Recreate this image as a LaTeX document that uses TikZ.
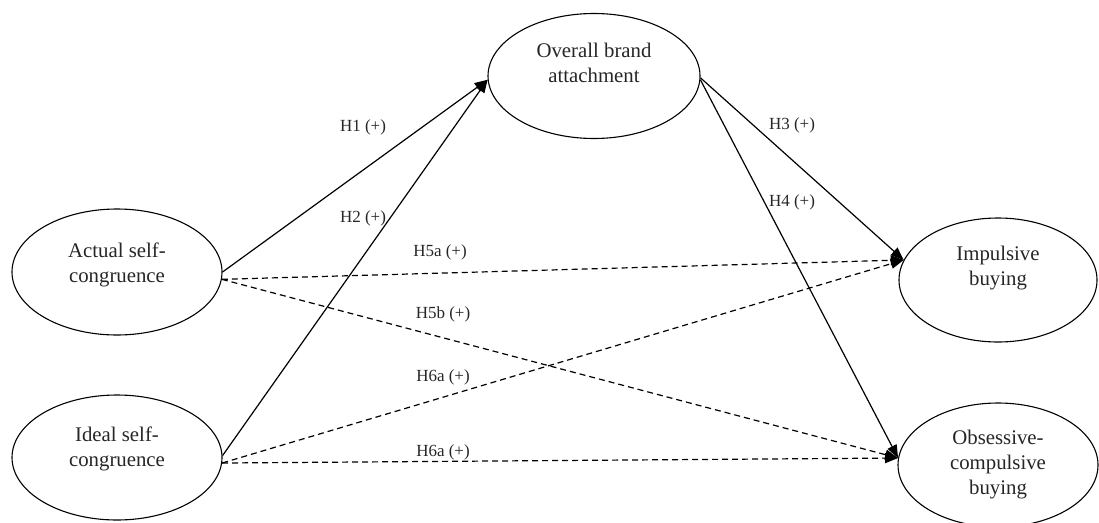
\documentclass[tikz,border=0pt]{standalone}
\usepackage{fontspec}
\setmainfont{Liberation Serif}
\usetikzlibrary{shapes.geometric,arrows.meta}
\begin{document}
\begin{tikzpicture}[x=1pt,y=1pt,
  ell/.style={draw, line width=1.1pt, ellipse, inner sep=0pt},
  ntext/.style={align=center, inner sep=0pt, font=\fontsize{20.8}{25}\selectfont, text=black!85},
  hlbl/.style={inner sep=0pt, font=\fontsize{17}{20}\selectfont, text=black!85},
  conn/.style={line width=1.2pt, -{Triangle[length=13pt,width=10pt]}},
  dconn/.style={conn, dash pattern=on 6pt off 4pt}]
\useasboundingbox (0,0) rectangle (1099,-522);
% ellipses
\node[ell, minimum width=212, minimum height=125] (ovr) at (594,-76) {};
\node[ell, minimum width=210, minimum height=126] (act) at (117,-272) {};
\node[ell, minimum width=210, minimum height=125] (ide) at (117,-457.5) {};
\node[ell, minimum width=198, minimum height=124] (imp) at (998,-280) {};
\node[ell, minimum width=200, minimum height=124] (obs) at (998,-465) {};
% texts
\node[ntext] (ovrt) at (594,-63) {Overall brand\\attachment};
\node[ntext] (actt) at (117,-265) {Actual self-\\congruence};
\node[ntext] (idet) at (117,-449) {Ideal self-\\congruence};
\node[ntext] (impt) at (998,-268) {Impulsive\\buying};
\node[ntext] (obst) at (998,-465) {Obsessive-\\compulsive\\buying};
% connectors
\draw[conn] (act.east) -- (ovr.182);
\draw[conn] (ide.1) -- (ovr.182);
\draw[conn] (ovr.-1) -- (imp.168);
\draw[conn] (ovr.-2) -- (obs.176);
\draw[dconn] (act.-4) -- (imp.168);
\draw[dconn] (act.-4) -- (obs.176);
\draw[dconn] (ide.-3) -- (imp.168);
\draw[dconn] (ide.-3) -- (obs.176);
% labels
\node[hlbl] (l1) at (363,-127) {H1 (+)};
\node[hlbl] (l2) at (363,-218) {H2 (+)};
\node[hlbl] (l3) at (792,-125) {H3 (+)};
\node[hlbl] (l4) at (792,-202) {H4 (+)};
\node[hlbl] (l5a) at (440,-252) {H5a (+)};
\node[hlbl] (l5b) at (443,-314) {H5b (+)};
\node[hlbl] (l6a) at (443,-377) {H6a (+)};
\node[hlbl] (l6b) at (443,-452) {H6a (+)};
\end{tikzpicture}
\end{document}
